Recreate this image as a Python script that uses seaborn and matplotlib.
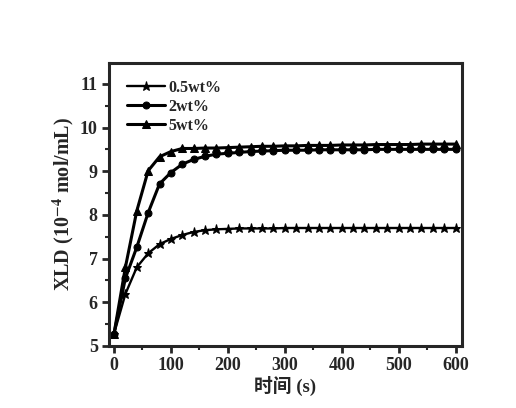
import seaborn as sns
import pandas as pd
import numpy as np
import matplotlib.pyplot as plt

sns.set_style('ticks')
plt.rcParams['font.family'] = ['Liberation Serif', 'Noto Sans CJK SC']
plt.rcParams['mathtext.fontset'] = 'stix'

# time points (s)
time = list(range(0, 601, 20))

# XLD values (10^-4 mol/mL)
xld_05 = [5.28, 6.19, 6.80, 7.12, 7.33, 7.45, 7.54, 7.61, 7.65, 7.67,
          7.68, 7.69, 7.69, 7.69, 7.69, 7.70, 7.70, 7.70, 7.70, 7.70,
          7.70, 7.70, 7.70, 7.70, 7.70, 7.70, 7.70, 7.70, 7.70, 7.70, 7.70]
xld_2 = [5.28, 6.55, 7.26, 8.05, 8.71, 8.97, 9.16, 9.27, 9.34, 9.39,
         9.41, 9.43, 9.45, 9.46, 9.47, 9.48, 9.48, 9.48, 9.49, 9.49,
         9.49, 9.49, 9.49, 9.50, 9.50, 9.50, 9.50, 9.50, 9.50, 9.50, 9.50]
xld_5 = [5.28, 6.80, 8.09, 9.01, 9.33, 9.45, 9.52, 9.52, 9.53, 9.53,
         9.54, 9.55, 9.56, 9.57, 9.57, 9.58, 9.58, 9.59, 9.59, 9.59,
         9.60, 9.60, 9.60, 9.61, 9.61, 9.61, 9.61, 9.62, 9.62, 9.62, 9.62]

labels = ['0.5wt%', '2wt%', '5wt%']
markers = ['*', 'o', '^']
msizes = [6.5, 5, 5.5]
widths = [1.7, 2.2, 2.2]

df = pd.DataFrame({'time': time * 3,
                   'xld': xld_05 + xld_2 + xld_5,
                   'group': [labels[0]] * len(time) + [labels[1]] * len(time) + [labels[2]] * len(time)})

fig = plt.figure(figsize=(5.16, 4.08), dpi=100)
ax = fig.add_axes([0.211, 0.152, 0.684, 0.694])

for lab, mk, ms, lw in zip(labels, markers, msizes, widths):
    sub = df[df['group'] == lab]
    sns.lineplot(x='time', y='xld', data=sub, ax=ax, color='black', linewidth=lw,
                 marker=mk, markersize=ms, markeredgecolor='black', label=lab)

ax.set_xlim(-9, 611)
ax.set_ylim(5, 11.48)
ax.set_xticks([0, 100, 200, 300, 400, 500, 600])
ax.set_xticks(np.arange(50, 600, 100), minor=True)
ax.set_yticks([5, 6, 7, 8, 9, 10, 11])
ax.set_yticks(np.arange(5.5, 11.5, 1), minor=True)

for sp in ax.spines.values():
    sp.set_linewidth(2.2)
ax.tick_params(which='major', length=5, width=2, labelsize=13, pad=3)
ax.tick_params(which='minor', length=3, width=1.5)
for t in ax.get_xticklabels() + ax.get_yticklabels():
    t.set_fontweight('bold')

ax.set_xlabel('时间 (s)', fontsize=13.5, fontweight='bold', labelpad=1)
ax.set_ylabel(r'XLD (10$^{\mathbf{-4}}$ mol/mL)', fontsize=14.5, fontweight='bold', labelpad=3)

leg = ax.legend(loc='upper left', frameon=False, bbox_to_anchor=(0.02, 0.98),
                prop={'weight': 'bold', 'size': 11.5}, handlelength=2.4,
                handletextpad=0.2, labelspacing=0.2, borderaxespad=0.3)

plt.savefig('out.png', dpi=100)
